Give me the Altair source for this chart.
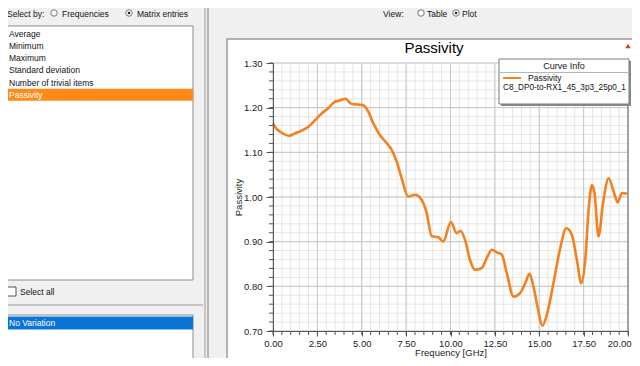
import altair as alt
import pandas as pd

# ---------------- data ----------------
freq = [0.00, 0.17, 0.45, 0.92, 1.21, 1.58, 1.96, 2.34, 2.71, 3.09, 3.47, 3.75, 4.09,
        4.40, 4.78, 5.06, 5.36, 5.64, 6.02, 6.40, 6.68, 6.96, 7.25, 7.62, 8.00, 8.37,
        8.66, 8.94, 9.31, 9.59, 10.02, 10.35, 10.57, 10.82, 11.10, 11.38, 11.76, 12.04,
        12.33, 12.61, 12.89, 13.17, 13.55, 13.92, 14.21, 14.45, 14.67, 14.90, 15.18,
        15.45, 15.80, 16.18, 16.52, 16.84, 17.12, 17.37, 17.59, 17.78, 17.97, 18.11,
        18.34, 18.59, 18.91, 19.19, 19.42, 19.66, 19.94]
passivity = [1.165, 1.154, 1.145, 1.137, 1.142, 1.148, 1.156, 1.171, 1.186, 1.198, 1.213,
             1.216, 1.220, 1.209, 1.207, 1.206, 1.192, 1.166, 1.139, 1.121, 1.106, 1.080,
             1.042, 1.001, 1.005, 0.994, 0.964, 0.912, 0.910, 0.900, 0.944, 0.919, 0.924,
             0.904, 0.859, 0.837, 0.841, 0.863, 0.882, 0.876, 0.871, 0.830, 0.777, 0.785,
             0.807, 0.828, 0.800, 0.755, 0.712, 0.740, 0.807, 0.885, 0.930, 0.915, 0.859,
             0.807, 0.859, 0.971, 1.027, 1.009, 0.912, 0.986, 1.042, 1.012, 0.988, 1.009,
             1.007]
stat_items = ["Average", "Minimum", "Maximum", "Standard deviation",
              "Number of trivial items", "Passivity"]
variation_items = ["No Variation"]
curve_name = "C8_DP0-to-RX1_45_3p3_25p0_1"
y_major = [0.70, 0.80, 0.90, 1.00, 1.10, 1.20, 1.30]
x_major = [0.0, 2.5, 5.0, 7.5, 10.0, 12.5, 15.0, 17.5, 20.0]
y_minor = [round(0.70 + 0.02 * i, 2) for i in range(31)]
x_minor = [round(0.5 * i, 1) for i in range(41)]

# ---------------- layout ----------------
W, H = 355, 268
OX, OY = 273, 63          # page position of plot origin
FONT = "Liberation Sans"
ORANGE = "#f5801f"

one = pd.DataFrame({"k": [0]})
df = pd.DataFrame({"f": freq, "p": passivity})
xs = alt.Scale(domain=[0, 20], nice=False, zero=False)
ys = alt.Scale(domain=[0.7, 1.3], nice=False, zero=False)

axis_common = dict(grid=False, zindex=1, labelFont=FONT, labelFontSize=9.5,
                   labelColor="#222", titleFont=FONT, titleFontSize=9.5,
                   titleColor="#222", titleFontWeight="normal", domainColor="#555",
                   tickColor="#555", labelOverlap=False, labelFlush=False,
                   format=".2f")
last_x = "datum.value >= 19.99"
x_axis = alt.Axis(values=x_major, tickSize=5, labelPadding=2,
                  labelAlign={"condition": {"test": last_x, "value": "right"},
                              "value": "center"},
                  labelOffset={"condition": {"test": last_x, "value": 3}, "value": 0},
                  title="Frequency [GHz]", titlePadding=0, **axis_common)
y_axis = alt.Axis(values=y_major, tickSize=7, labelPadding=4,
                  title="Passivity", titlePadding=0, **axis_common)


def X(field):
    return alt.X(field, scale=xs, axis=x_axis)


def Y(field):
    return alt.Y(field, scale=ys, axis=y_axis)


def rect(x1, y1, x2, y2, fill, stroke=None, sw=1):
    kw = dict(fill=fill)
    if stroke:
        kw.update(stroke=stroke, strokeWidth=sw)
    return alt.Chart(one).mark_rect(**kw).encode(
        x=alt.value(x1 - OX), x2=alt.value(x2 - OX),
        y=alt.value(y1 - OY), y2=alt.value(y2 - OY))


def hline(x1, x2, y, color, sw=1):
    return alt.Chart(one).mark_rule(color=color, strokeWidth=sw).encode(
        x=alt.value(x1 - OX), x2=alt.value(x2 - OX), y=alt.value(y - OY))


def vline(x, y1, y2, color, sw=1):
    return alt.Chart(one).mark_rule(color=color, strokeWidth=sw).encode(
        x=alt.value(x - OX), y=alt.value(y1 - OY), y2=alt.value(y2 - OY))


def txt(s, x, y, size=8.5, color="#111", align="left", weight="normal"):
    return alt.Chart(one).mark_text(text=s, align=align, baseline="middle",
                                    fontSize=size, font=FONT, color=color,
                                    fontWeight=weight).encode(
        x=alt.value(x - OX), y=alt.value(y - OY))


def radio(x, y, checked):
    layers = [alt.Chart(one).mark_point(shape="circle", filled=True, fill="white",
                                        stroke="#777", strokeWidth=1, size=42,
                                        opacity=1).encode(
        x=alt.value(x - OX), y=alt.value(y - OY))]
    if checked:
        layers.append(alt.Chart(one).mark_point(shape="circle", filled=True,
                                                color="#222", size=7, opacity=1).encode(
            x=alt.value(x - OX), y=alt.value(y - OY)))
    return layers


ui = []
# left panel
ui += [vline(205, 0, 370, "#9a9a9a"), vline(208, 0, 370, "#7c7c7c")]
ui += [hline(0, 203, 305, "#9a9a9a")]
ui += [txt("Select by:", 7, 14)]
ui += radio(54, 13, False) + [txt("Frequencies", 62, 14)]
ui += radio(129, 13, True) + [txt("Matrix entries", 137, 14)]
ui += [rect(6, 26, 193, 280, "white", "#8c8c8c")]
ui += [rect(7, 88.7, 193, 100.7, "#ff8a1a")]
for i, s in enumerate(stat_items):
    ui.append(txt(s, 9, 33.5 + i * 12.3, color="white" if s == "Passivity" else "#111"))
ui += [rect(7, 287, 16, 296, "white", "#555"), txt("Select all", 20, 291.5)]
ui += [rect(6, 315, 193, 380, "white", "#8c8c8c")]
ui += [rect(7, 316.5, 193, 329.5, "#0a74d6")]
for i, s in enumerate(variation_items):
    ui.append(txt(s, 9, 323 + i * 12.3, color="white"))
# view selector
ui += [txt("View:", 383, 14)]
ui += radio(421, 13, False) + [txt("Table", 427, 14)]
ui += radio(456, 13, True) + [txt("Plot", 462, 14)]
# chart frame
ui += [rect(227, 39, 640, 380, "white", "#9a9a9a", 1.5)]

# grid
grid = [
    alt.Chart(pd.DataFrame({"v": y_minor})).mark_rule(color="#e6e6e6").encode(
        y=Y("v:Q"), x=alt.value(0), x2=alt.value(W)),
    alt.Chart(pd.DataFrame({"v": x_minor})).mark_rule(color="#e6e6e6").encode(
        x=X("v:Q"), y=alt.value(0), y2=alt.value(H)),
    alt.Chart(pd.DataFrame({"v": y_major})).mark_rule(color="#c6c6c6").encode(
        y=Y("v:Q"), x=alt.value(0), x2=alt.value(W)),
    alt.Chart(pd.DataFrame({"v": x_major})).mark_rule(color="#c6c6c6").encode(
        x=X("v:Q"), y=alt.value(0), y2=alt.value(H)),
]

line = alt.Chart(df).mark_line(color=ORANGE, strokeWidth=2.6,
                               interpolate="monotone").encode(
    x=X("f:Q"), y=Y("p:Q"))

ticks = [
    alt.Chart(pd.DataFrame({"v": y_minor})).mark_rule(color="#555").encode(
        y=Y("v:Q"), x=alt.value(-4), x2=alt.value(0)),
    alt.Chart(pd.DataFrame({"v": x_minor})).mark_rule(color="#555").encode(
        x=X("v:Q"), y=alt.value(H), y2=alt.value(H + 4)),
    alt.Chart(one).mark_rule(color="#666").encode(
        x=alt.value(W), y=alt.value(0), y2=alt.value(H)),
]

deco = [
    txt("Passivity", 434, 48, size=15, color="#000", align="center"),
    alt.Chart(one).mark_point(shape="triangle-up", filled=True, color="#d8392b",
                              size=30, opacity=1).encode(
        x=alt.value(628 - OX), y=alt.value(46 - OY)),
    rect(501, 61, 631, 106, "#8a8a8a"),
    rect(499, 59, 629, 104, "white", "#7a7a7a"),
    txt("Curve Info", 564, 65.5, size=9, align="center"),
    hline(500, 628, 72.5, "#b5b5b5"),
    hline(503, 521, 78, ORANGE, 2),
    txt("Passivity", 528, 78),
    txt(curve_name, 503, 88, size=8.2),
]

chart = alt.layer(*ui, *grid, line, *ticks, *deco).properties(
    width=W, height=H, autosize="none",
    padding={"left": 265, "top": 55, "right": 4, "bottom": 27},
).configure(background="#f0f0f0").configure_view(stroke=None)

chart.save("out.html", embed_options={"renderer": "svg", "actions": False})
